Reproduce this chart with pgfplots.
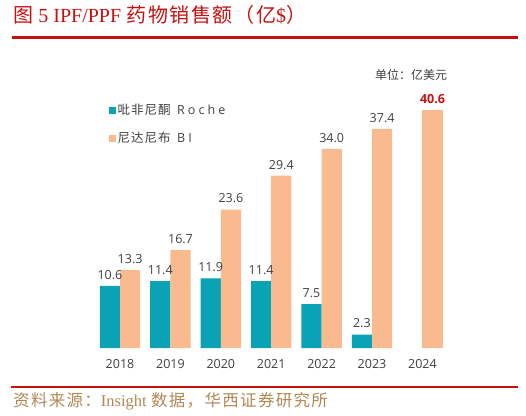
\documentclass[border=0pt]{standalone}
\usepackage{pgfplots}
\pgfplotsset{compat=1.18}
\usepackage{fontspec}
\setmainfont{Open Sans}
\newfontfamily\cjk{Noto Sans CJK SC}
\newfontfamily\cjkw[LetterSpace=8]{Noto Sans CJK SC}
\newfontfamily\serifl{Liberation Serif}
\newfontfamily\lsp[LetterSpace=25]{Open Sans}
\definecolor{tealc}{RGB}{10,163,181}
\definecolor{peach}{RGB}{248,186,142}
\definecolor{dred}{RGB}{200,16,16}
\definecolor{txt}{RGB}{64,64,64}
\definecolor{gold}{RGB}{176,136,86}
\begin{document}
\begin{tikzpicture}
\useasboundingbox (0,0) rectangle (526pt,415pt);
% title
\node[anchor=west, text=dred, inner sep=0pt] at (13pt,400pt) {\fontsize{20}{23}\selectfont{\cjk 图}\ {\serifl 5\ IPF/PPF}\ {\cjkw 药物销售额（亿}{\serifl\$}{\cjk ）}};
\draw[dred, line width=3pt] (12pt,377.5pt) -- (518pt,377.5pt);
% footer
\draw[dred, line width=2.5pt] (11pt,28pt) -- (518pt,28pt);
\node[anchor=west, text=gold, inner sep=0pt] at (13pt,14pt) {\fontsize{16.5}{18}\selectfont{\cjkw 资料来源：}{\serifl Insight}\ {\cjkw 数据，华西证券研究所}};
% unit
\node[anchor=west, text=txt, inner sep=0pt] at (375pt,340pt) {\fontsize{12}{14}\selectfont\cjk 单位：亿美元};
\begin{axis}[
  at={(94.8pt,67pt)}, anchor=south west,
  scale only axis, width=352.8pt, height=263.7pt,
  xmin=-0.5, xmax=6.5, ymin=0, ymax=45,
  ybar, bar width=20.2pt,
  axis line style={draw=none}, tick style={draw=none},
  ymajorticks=false,
  xtick={0,1,2,3,4,5,6},
  xticklabels={2018,2019,2020,2021,2022,2023,2024},
  xticklabel style={text=txt, font=\fontsize{12.5}{14}\selectfont, yshift=-4pt},
  nodes near coords,
  every node near coord/.append style={text=txt, yshift=3pt, font=\fontsize{12.5}{14}\selectfont, /pgf/number format/fixed, /pgf/number format/fixed zerofill, /pgf/number format/precision=1, /pgf/number format/assume math mode=true},
  legend style={draw=none, fill=none, at={(0.03,0.94)}, anchor=north west, row sep=12pt, font=\fontsize{12.5}{14}\selectfont\color{txt}, /tikz/every even column/.append style={column sep=0pt}},
  legend cell align=left,
  legend image code/.code={\fill[#1] (0pt,-3.5pt) rectangle (7pt,3.5pt);},
]
\addplot[fill=tealc, draw=none, bar shift=-10.1pt] coordinates {(0,10.6) (1,11.4) (2,11.9) (3,11.4) (4,7.5) (5,2.3)};
\addlegendentry{{\cjkw 吡非尼酮}\ \ {\lsp Roche}}
\addplot[fill=peach, draw=none, bar shift=10.1pt] coordinates {(0,13.3) (1,16.7) (2,23.6) (3,29.4) (4,34.0) (5,37.4)};
\addlegendentry{{\cjkw 尼达尼布}\ \ {\lsp BI}}
\addplot[fill=peach, draw=none, bar shift=10.1pt, forget plot, every node near coord/.append style={text=dred, font=\fontsize{12.5}{14}\selectfont\bfseries}] coordinates {(6,40.6)};
\end{axis}
\end{tikzpicture}
\end{document}
